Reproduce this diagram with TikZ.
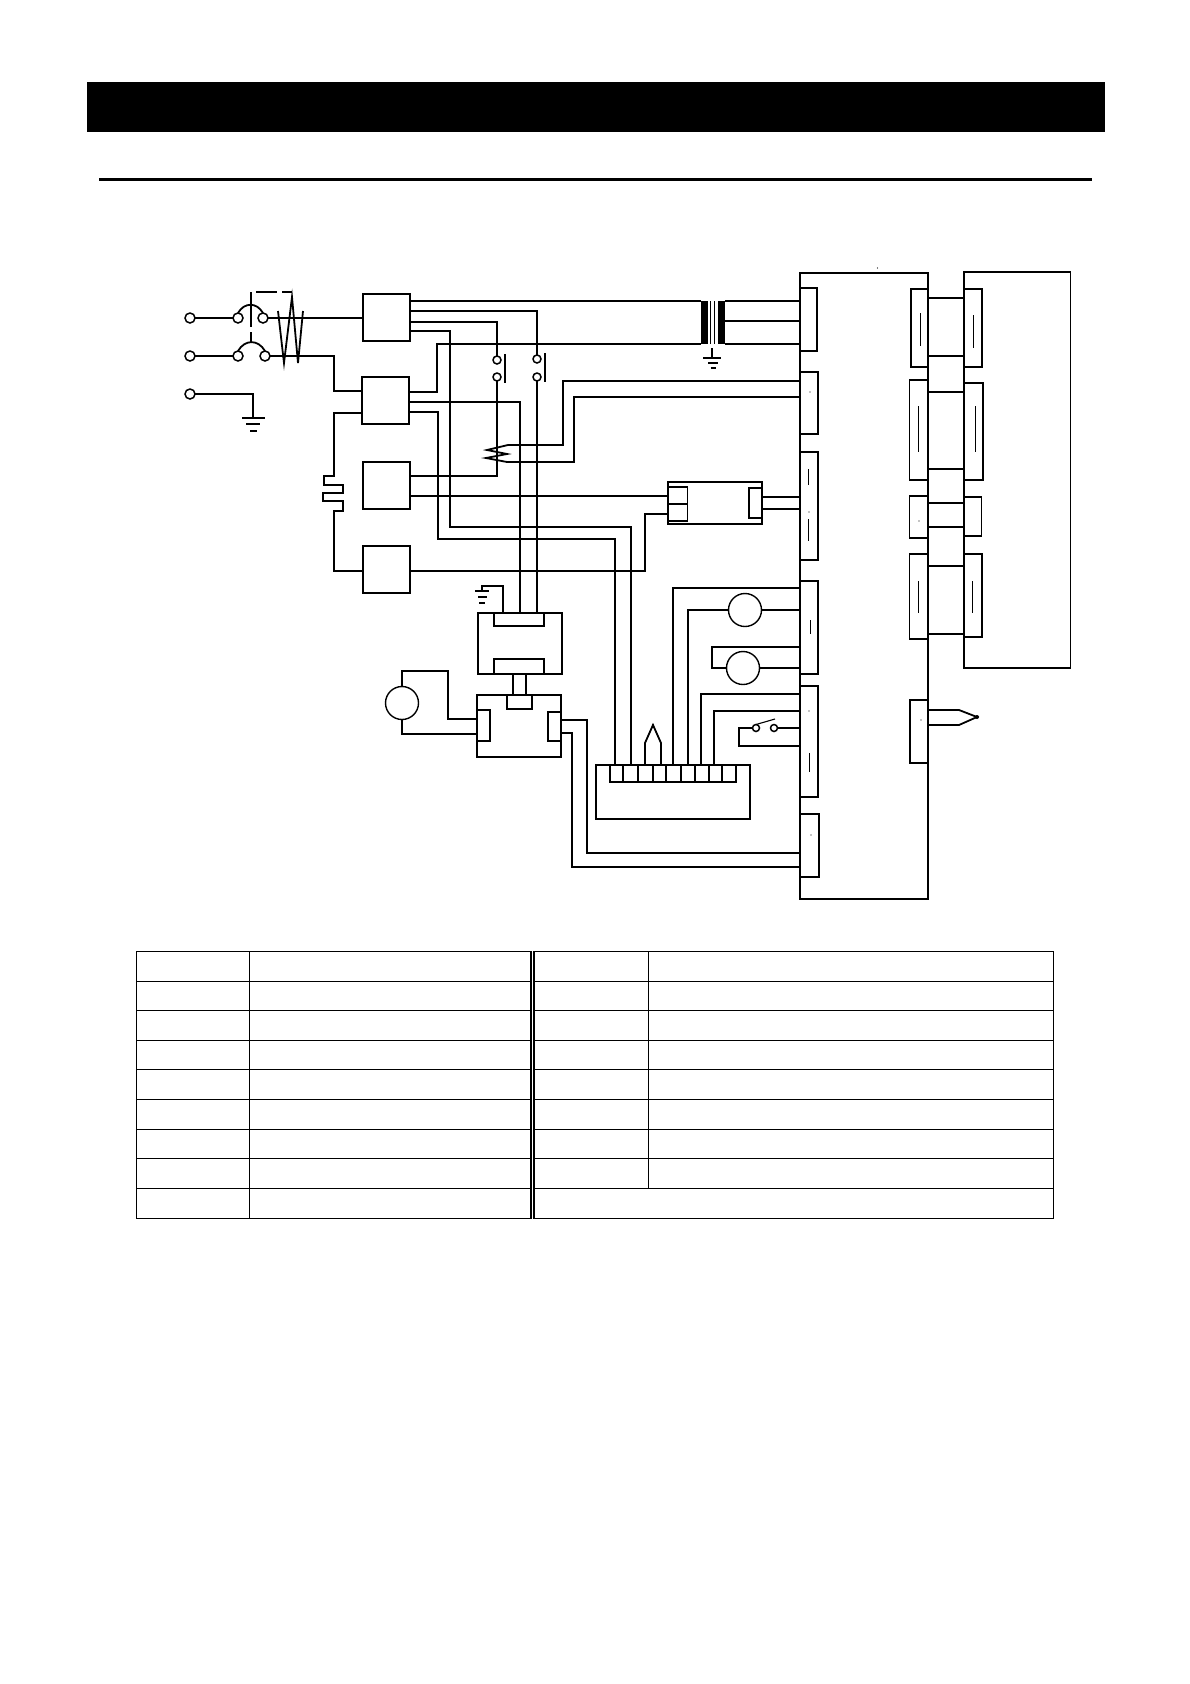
\documentclass[tikz,border=0pt]{standalone}
\usetikzlibrary{positioning,calc}
\tikzset{
    wire/.style={line width=1.8pt},
    thinwire/.style={line width=1.1pt},
    mark line/.style={line width=0.9pt},
    tableline/.style={line width=1.6pt},
    blockbox/.style={draw, line width=1.9pt, inner sep=0pt, outer sep=0pt, anchor=north west},
    conn/.style={blockbox, line width=1.7pt},
    thinconn/.style={blockbox, line width=1.1pt},
    term/.style={draw, circle, line width=1.5pt, inner sep=0pt, outer sep=0pt, minimum size=10pt},
    contact/.style={term, minimum size=8pt},
    fan/.style={draw, circle, line width=1.4pt, inner sep=0pt, outer sep=0pt, minimum size=33pt},
    core/.style={fill=black, inner sep=0pt, outer sep=0pt, anchor=north west}
}
\begin{document}
\begin{tikzpicture}[x=1pt, y=-1pt]
    \useasboundingbox[fill=white] (0, 0) rectangle (1190, 1684);
    % banner and rule
    \node[fill=black, inner sep=0pt, outer sep=0pt, anchor=north west, minimum width=1018pt, minimum height=50pt] (banner) at (87, 82) {};
    \draw[line width=3pt] (99, 179.5) -- (1092, 179.5);

    % mains input
    \node[term] (lineA) at (190, 318) {};
    \node[term] (lineB) at (190, 356) {};
    \node[term] (lineE) at (190, 394) {};
    \node[term] (brkAa) at (238, 318) {};
    \node[term] (brkAb) at (263, 318) {};
    \node[term] (brkBa) at (238, 356) {};
    \node[term] (brkBb) at (265, 356) {};
    \draw[wire] (brkAa.north) to[out=60, in=120, looseness=1.3] (brkAb.north);
    \draw[wire] (brkBa.north) to[out=60, in=120, looseness=1.3] (brkBb.north);
    \draw[wire] (251, 292) -- (251, 327) (251, 332) -- (251, 343);
    \draw[wire] (256, 292) -- (277, 292) (282, 292) -- (292, 292);
    \draw[wire] (278, 311) -- (284, 363) -- (292, 297) -- (298, 363) -- (303, 311);

    % relay boxes
    \node[blockbox, minimum width=47pt, minimum height=47pt] (kOne) at (363, 294) {};
    \node[blockbox, minimum width=47pt, minimum height=47pt] (kTwo) at (362, 377) {};
    \node[blockbox, minimum width=47pt, minimum height=47pt] (kThree) at (363, 462) {};
    \node[blockbox, minimum width=47pt, minimum height=47pt] (kFour) at (363, 546) {};

    % main board with its connectors
    \node[thinconn, minimum width=128pt, minimum height=626pt] (mainbox) at (800, 273) {};
    \draw[line width=1.9pt] (mainbox.north east) -- (mainbox.north west) -- (mainbox.south west) -- (mainbox.south east);
    \node[conn, minimum width=17pt, minimum height=63pt] (cnOne) at (800, 288) {};
    \node[conn, minimum width=18pt, minimum height=62pt] (cnTwo) at (800, 372) {};
    \node[conn, minimum width=18pt, minimum height=108pt] (cnThree) at (800, 452) {};
    \node[conn, minimum width=18pt, minimum height=93pt] (cnFour) at (800, 581) {};
    \node[conn, minimum width=18pt, minimum height=111pt] (cnFive) at (800, 686) {};
    \node[conn, minimum width=19pt, minimum height=63pt] (cnSix) at (800, 814) {};
    \node[thinconn, minimum width=18pt, minimum height=63pt] (cnSeven) at (910, 700) {};
    \node[thinconn, minimum width=17pt, minimum height=78pt] (cnA) at (911, 289) {};
    \node[conn, minimum width=18.4pt, minimum height=100pt] (cnB) at (909.6, 380) {};
    \node[conn, minimum width=18.4pt, minimum height=42pt] (cnC) at (909.6, 496) {};
    \node[conn, minimum width=18.4pt, minimum height=85pt] (cnD) at (909.6, 554) {};
    \draw[mark line]
        (808.7, 469) -- (808.7, 485)
        (808.7, 519) -- (808.7, 541)
        (810, 620) -- (810, 634)
        (809, 753) -- (809, 772)
        (920.6, 313) -- (920.6, 346)
        (918.5, 406) -- (918.5, 452)
        (918, 581) -- (918, 613);
    \foreach \dotx/\doty in {877.5/268, 810/392, 809/512, 919/521, 921/720, 811/835, 809/711}
        \fill (\dotx, \doty) circle (0.6pt);

    % outer unit
    \node[thinconn, minimum width=106.4pt, minimum height=396pt] (unitbox) at (964, 272) {};
    \draw[line width=1.9pt] (unitbox.north west) -- (unitbox.north east);
    \node[conn, minimum width=18pt, minimum height=78pt] (outA) at (964, 289) {};
    \node[conn, minimum width=19pt, minimum height=97pt] (outB) at (964, 383) {};
    \node[thinconn, minimum width=17.5pt, minimum height=39pt] (outC) at (964, 497) {};
    \node[conn, minimum width=18pt, minimum height=83pt] (outD) at (964, 554) {};
    \draw[mark line]
        (973, 315) -- (973, 348)
        (975, 406) -- (975, 452)
        (972, 581) -- (972, 613);
    \draw[wire] (mainbox.east |- 0, 298) -- (outA.west |- 0, 298);
    \draw[thinwire] (mainbox.east |- 0, 356) -- (outA.west |- 0, 356);
    \draw[thinwire] (mainbox.east |- 0, 392) -- (outB.west |- 0, 392);
    \draw[wire] (mainbox.east |- 0, 469) -- (outB.west |- 0, 469);
    \draw[wire] (mainbox.east |- 0, 503) -- (outC.west |- 0, 503);
    \draw[wire] (mainbox.east |- 0, 527) -- (outC.west |- 0, 527);
    \draw[wire] (mainbox.east |- 0, 566) -- (outD.west |- 0, 566);
    \draw[wire] (mainbox.east |- 0, 634) -- (outD.west |- 0, 634);

    % transformer
    \node[core, minimum width=6pt, minimum height=43pt] (trafoA) at (700.5, 301) {};
    \node[core, minimum width=7pt, minimum height=43pt] (trafoB) at (718, 301) {};
    \foreach \corex in {707, 710.5, 714.3}
        \draw[line width=0.6pt] (\corex, 301) -- (\corex, 344);
    \coordinate (gndB) at (712, 348);
    \draw[wire] (gndB) -- (712, 358) (703, 358) -- (721, 358) (708, 363) -- (718, 363) (710.5, 368) -- (716, 368);

    % switches and heater
    \node[contact] (swAa) at (497, 360) {};
    \node[contact] (swAb) at (497, 377) {};
    \node[contact] (swBa) at (537, 359) {};
    \node[contact] (swBb) at (537, 377) {};
    \draw[wire] (505, 354) -- (505, 383);
    \draw[wire] (545, 353) -- (545, 382);
    \coordinate (htrA) at (508, 445);
    \coordinate (htrB) at (507, 462);
    \draw[wire] (htrA) -- (487, 450) -- (507, 454) -- (486, 458) -- (htrB);

    % servo amplifier and motor
    \node[blockbox, minimum width=84pt, minimum height=61pt] (ampTop) at (478, 613) {};
    \node[conn, minimum width=50pt, minimum height=13pt] (ampIn) at (494, 613) {};
    \node[thinconn, minimum width=50pt, minimum height=15pt] (ampOut) at (494, 659) {};
    \node[blockbox, minimum width=84pt, minimum height=62pt] (drvBox) at (477, 695) {};
    \node[conn, minimum width=25pt, minimum height=14pt] (drvTop) at (507, 695) {};
    \node[conn, minimum width=13pt, minimum height=31pt] (drvL) at (477, 710) {};
    \node[conn, minimum width=13pt, minimum height=29pt] (drvR) at (548, 712) {};
    \draw[thinwire] (513, 0 |- ampTop.south) -- (513, 0 |- drvTop.north);
    \draw[wire] (526, 0 |- ampTop.south) -- (526, 0 |- drvTop.north);
    \node[fan] (motorM) at (402, 703) {};
    \node[draw=none, inner sep=0pt] (gndCtop) at (482, 591) {};
    \draw[thinwire] (503, 0 |- ampTop.north) |- (482, 586) -- (gndCtop.center);
    \draw[wire] (475, 591) -- (489, 591) (478, 597) -- (487, 597) (479, 603) -- (485, 603);

    % terminal block with fans and door switch
    \node[thinconn, minimum width=154pt, minimum height=54pt] (tbOuter) at (596, 765) {};
    \node[conn, minimum width=126pt, minimum height=17pt] (tbInner) at (610, 765) {};
    \foreach \tbx in {623, 638, 653, 666, 681, 695, 709, 722}
        \draw[wire] (\tbx, 0 |- tbInner.north) -- (\tbx, 0 |- tbInner.south);
    \node[fan] (fanA) at (745, 610) {};
    \node[fan] (fanB) at (743, 668) {};
    \node[contact, minimum size=7pt] (swCa) at (756, 728) {};
    \node[contact, minimum size=7pt] (swCb) at (774, 728) {};
    \coordinate (tipB) at (977, 717);

    % middle connector
    \node[thinconn, minimum width=94pt, minimum height=42pt] (midOuter) at (668, 482) {};
    \node[conn, minimum width=19.4pt, minimum height=34pt] (midL) at (668, 487) {};
    \node[conn, minimum width=13pt, minimum height=30pt] (midR) at (749, 488) {};
    \draw[wire] (midL.west) -- (midL.east);

    % wiring
    \draw[wire] (lineA) -- (brkAa);
    \draw[wire] (lineB) -- (brkBa);
    \draw[wire] (lineE) -| (253, 418);
    \draw[wire] (242, 418) -- (265, 418) (246, 424) -- (260, 424) (250, 431) -- (257, 431);
    \draw[wire] (brkAb) -- (kOne.west |- 0, 318);
    \draw[wire] (brkBb) -- (334, 356) |- (kTwo.west |- 0, 391);
    \draw[wire] (kTwo.west |- 0, 413) -- (334, 413) -- (334, 476) -- (324, 476) -- (324, 485) -- (343, 485) -- (343, 493) -- (323, 493) -- (323, 501) -- (343, 501) -- (343, 511) -- (334, 511) |- (kFour.west |- 0, 571);

    \draw[wire] (kOne.east |- 0, 301) -- (trafoA.west |- 0, 301);
    \draw[wire] (trafoB.east |- 0, 301) -- (cnOne.west |- 0, 301);
    \draw[thinwire] (trafoB.east |- 0, 321) -- (cnOne.west |- 0, 321);
    \draw[thinwire] (trafoB.east |- 0, 344) -- (cnOne.west |- 0, 344);
    \draw[wire] (kOne.east |- 0, 311) -| (swBa);
    \draw[wire] (kOne.east |- 0, 322) -| (swAa);
    \draw[thinwire] (kOne.east |- 0, 331) -| (450, 527) -| (631, 0 |- tbInner.north);
    \draw[thinwire] (kTwo.east |- 0, 392) -| (437, 344) -- (trafoA.west |- 0, 344);
    \draw[wire] (kTwo.east |- 0, 402) -| (520, 0 |- ampIn.north);
    \draw[wire] (kTwo.east |- 0, 412) -| (438, 539) -| (615, 0 |- tbInner.north);
    \draw[wire] (swBb) -- (537, 0 |- ampIn.north);
    \draw[wire] (swAb) |- (kThree.east |- 0, 476);
    \draw[wire] (kThree.east |- 0, 496) -- (midL.west |- 0, 496);
    \draw[wire] (kFour.east |- 0, 571) -| (645, 514) -- (midL.west |- 0, 514);
    \draw[wire] (midR.east |- 0, 497) -- (cnThree.west |- 0, 497);
    \draw[thinwire] (midR.east |- 0, 509) -- (cnThree.west |- 0, 509);
    \draw[wire] (cnTwo.west |- 0, 381) -| (563, 445) -- (htrA);
    \draw[wire] (cnTwo.west |- 0, 397) -| (574, 462) -- (htrB);

    \draw[wire] (motorM) |- (448, 671) |- (drvL.west |- 0, 719);
    \draw[thinwire] (motorM) |- (drvL.west |- 0, 734);
    \draw[wire] (drvR.east |- 0, 720) -| (587, 853) -- (cnSix.west |- 0, 853);
    \draw[wire] (drvR.east |- 0, 733) -| (572, 867) -- (cnSix.west |- 0, 867);

    \draw[wire] (tbInner.north -| 673, 0) |- (cnFour.west |- 0, 588);
    \draw[wire] (tbInner.north -| 688, 0) |- (fanA);
    \draw[wire] (fanA) -- (cnFour.west |- 0, 610);
    \draw[wire] (cnFour.west |- 0, 647) -| (712, 668) -- (fanB);
    \draw[wire] (fanB) -- (cnFour.west |- 0, 668);
    \draw[wire] (tbInner.north -| 701, 0) |- (cnFive.west |- 0, 694);
    \draw[wire] (tbInner.north -| 714, 0) |- (cnFive.west |- 0, 711);
    \draw[wire] (tbInner.north -| 645, 0) -- (645, 743) -- (653, 725) -- (661, 743) -- (tbInner.north -| 661, 0);
    \fill (653, 725) circle (1.2pt);
    \draw[wire] (swCa) -- (739, 728) -- (739, 746) -- (cnFive.west |- 0, 746);
    \draw[thinwire] (swCb) -- (cnFive.west |- 0, 728);
    \draw[thinwire] (swCa.north) -- (775, 719);
    \draw[wire] (cnSeven.east |- 0, 710) -- (959, 710) -- (tipB) -- (959, 725) -- (cnSeven.east |- 0, 725);
    \fill (tipB) circle (2pt);

    % table
    \draw[tableline] (136.5, 951.5) rectangle (1053.5, 1218.5);
    \foreach \rowy in {981.5, 1010.5, 1040.5, 1069.5, 1099.5, 1129.5, 1158.5, 1188.5}
        \draw[tableline] (136.5, \rowy) -- (1053.5, \rowy);
    \draw[tableline] (249.5, 951.5) -- (249.5, 1218.5);
    \draw[tableline] (531, 951.5) -- (531, 1218.5);
    \draw[tableline] (534, 951.5) -- (534, 1218.5);
    \draw[white, line width=1.2pt] (532.5, 951) -- (532.5, 1219);
    \draw[tableline] (648.5, 951.5) -- (648.5, 1188.5);
\end{tikzpicture}
\end{document}
